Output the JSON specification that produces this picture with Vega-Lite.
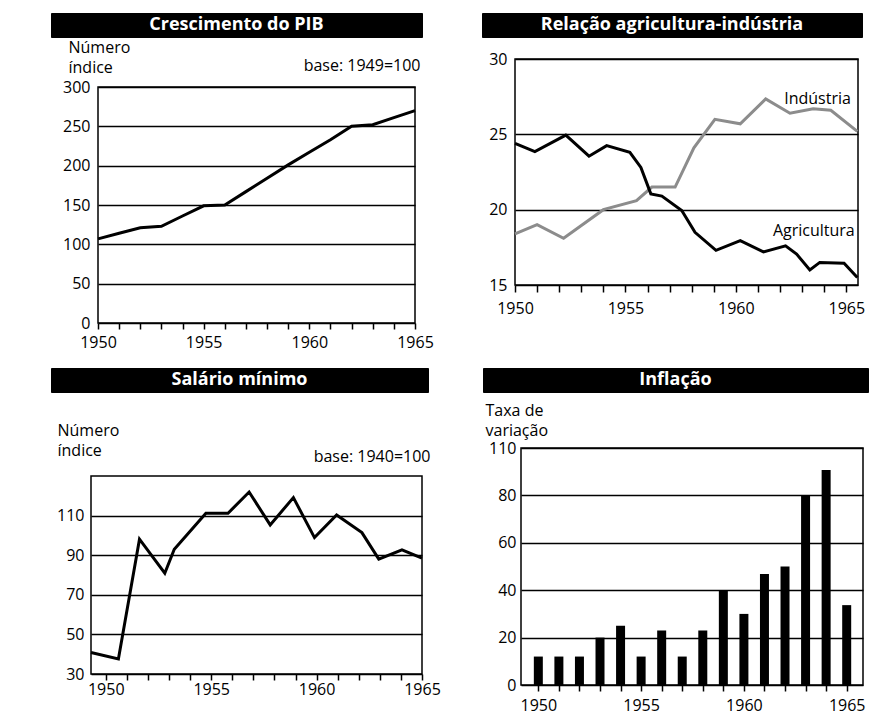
{
  "$schema": "https://vega.github.io/schema/vega-lite/v6.json",
  "padding": {"left": 50, "top": 12, "right": 0, "bottom": 0},
  "background": "white",
  "spacing": 16,
  "config": {
    "font": "Open Sans",
    "view": {"stroke": "black", "strokeWidth": 1.5},
    "axis": {
      "labelFont": "Open Sans", "labelFontSize": 16, "labelColor": "black",
      "titleFont": "Open Sans", "titleFontSize": 16, "titleFontWeight": "normal", "titleColor": "black",
      "tickColor": "black", "tickWidth": 1.5, "gridColor": "black", "gridWidth": 1.5, "gridOpacity": 1,
      "domain": false, "labelFlush": false, "labelOverlap": false, "labelBound": false
    },
    "text": {"font": "Open Sans"}
  },
  "vconcat": [
    {
      "spacing": 46,
      "hconcat": [
        {
          "spacing": 0,
          "vconcat": [
            {
              "width": 371, "height": 24,
              "view": {"fill": "black", "stroke": "black"},
              "data": {"values": [{"t": "Crescimento do PIB"}]},
              "mark": {"type": "text", "color": "white", "fontWeight": "bold", "fontSize": 18},
              "encoding": {"text": {"field": "t"}}
            },
            {
              "spacing": 0,
              "hconcat": [
                {"width": 1, "height": 1, "view": {"stroke": null}, "data": {"values": []}, "mark": "point"},
                {
                  "width": 317, "height": 236,
                  "data": {"values": [
                    {"year": 1950, "value": 107}, {"year": 1951, "value": 114}, {"year": 1952, "value": 121},
                    {"year": 1953, "value": 123}, {"year": 1954, "value": 136}, {"year": 1955, "value": 149},
                    {"year": 1956, "value": 150}, {"year": 1957, "value": 167}, {"year": 1958, "value": 184},
                    {"year": 1959, "value": 201}, {"year": 1960, "value": 217}, {"year": 1961, "value": 233},
                    {"year": 1962, "value": 250}, {"year": 1963, "value": 252}, {"year": 1964, "value": 261},
                    {"year": 1965, "value": 270}
                  ]},
                  "mark": {"type": "line", "color": "black", "strokeWidth": 3},
                  "encoding": {
                    "x": {"field": "year", "type": "quantitative", "scale": {"domain": [1950, 1965]},
                      "axis": {"values": [1950,1951,1952,1953,1954,1955,1956,1957,1958,1959,1960,1961,1962,1963,1964,1965],
                        "format": "d", "labelExpr": "datum.value % 5 == 0 ? datum.label : ''", "labelOverlap": false,
                        "grid": false, "tickSize": 6, "labelPadding": 5,
                        "title": "base: 1949=100", "titleX": 322, "titleY": -258, "titleAlign": "right", "titleBaseline": "middle", "titleAngle": 0}},
                    "y": {"field": "value", "type": "quantitative", "scale": {"domain": [0, 300]},
                      "axis": {"values": [0, 50, 100, 150, 200, 250, 300], "grid": true, "ticks": false, "labelPadding": 8,
                        "minExtent": 45,
                        "title": ["Número", "índice"], "titleAngle": 0, "titleAlign": "left", "titleBaseline": "top",
                        "titleX": -30, "titleY": -48, "titleLineHeight": 20}}
                  }
                }
              ]
            }
          ]
        },
        {
          "spacing": 12,
          "vconcat": [
            {
              "width": 380, "height": 24,
              "view": {"fill": "black", "stroke": "black"},
              "data": {"values": [{"t": "Relação agricultura-indústria"}]},
              "mark": {"type": "text", "color": "white", "fontWeight": "bold", "fontSize": 18},
              "encoding": {"text": {"field": "t"}}
            },
            {
              "spacing": 0,
              "hconcat": [
                {"width": 1, "height": 1, "view": {"stroke": null}, "data": {"values": []}, "mark": "point"},
                {
                  "width": 343, "height": 226,
                  "encoding": {
                    "x": {"field": "year", "type": "quantitative", "scale": {"domain": [1950, 1965.53], "nice": false},
                      "axis": {"values": [1950,1951,1952,1953,1954,1955,1956,1957,1958,1959,1960,1961,1962,1963,1964,1965],
                        "format": "d", "labelExpr": "datum.value % 5 == 0 ? datum.label : ''", "labelOverlap": false,
                        "grid": false, "tickSize": 7, "labelPadding": 8, "title": null}},
                    "y": {"field": "value", "type": "quantitative", "scale": {"domain": [15, 30], "nice": false},
                      "axis": {"values": [15, 20, 25, 30], "grid": true, "ticks": false, "labelPadding": 8,
                        "minExtent": 31, "title": null}}
                  },
                  "layer": [
                    {
                      "data": {"values": [
                        {"serie": "Indústria", "year": 1950.0, "value": 18.4},
                        {"serie": "Indústria", "year": 1951.0, "value": 19.0},
                        {"serie": "Indústria", "year": 1952.2, "value": 18.1},
                        {"serie": "Indústria", "year": 1954.0, "value": 20.0},
                        {"serie": "Indústria", "year": 1955.5, "value": 20.6},
                        {"serie": "Indústria", "year": 1956.2, "value": 21.5},
                        {"serie": "Indústria", "year": 1957.25, "value": 21.5},
                        {"serie": "Indústria", "year": 1958.1, "value": 24.1},
                        {"serie": "Indústria", "year": 1959.05, "value": 26.0},
                        {"serie": "Indústria", "year": 1960.2, "value": 25.7},
                        {"serie": "Indústria", "year": 1961.35, "value": 27.35},
                        {"serie": "Indústria", "year": 1962.45, "value": 26.4},
                        {"serie": "Indústria", "year": 1963.5, "value": 26.7},
                        {"serie": "Indústria", "year": 1964.3, "value": 26.6},
                        {"serie": "Indústria", "year": 1965.5, "value": 25.2},
                        {"serie": "Agricultura", "year": 1950.0, "value": 24.4},
                        {"serie": "Agricultura", "year": 1950.9, "value": 23.85},
                        {"serie": "Agricultura", "year": 1952.3, "value": 24.95},
                        {"serie": "Agricultura", "year": 1953.35, "value": 23.55},
                        {"serie": "Agricultura", "year": 1954.15, "value": 24.25},
                        {"serie": "Agricultura", "year": 1955.2, "value": 23.8},
                        {"serie": "Agricultura", "year": 1955.7, "value": 22.8},
                        {"serie": "Agricultura", "year": 1956.15, "value": 21.05},
                        {"serie": "Agricultura", "year": 1956.65, "value": 20.9},
                        {"serie": "Agricultura", "year": 1957.55, "value": 19.95},
                        {"serie": "Agricultura", "year": 1958.15, "value": 18.5},
                        {"serie": "Agricultura", "year": 1959.1, "value": 17.3},
                        {"serie": "Agricultura", "year": 1960.2, "value": 17.95},
                        {"serie": "Agricultura", "year": 1961.25, "value": 17.2},
                        {"serie": "Agricultura", "year": 1962.25, "value": 17.6},
                        {"serie": "Agricultura", "year": 1962.75, "value": 17.05},
                        {"serie": "Agricultura", "year": 1963.35, "value": 16.0},
                        {"serie": "Agricultura", "year": 1963.8, "value": 16.5},
                        {"serie": "Agricultura", "year": 1964.9, "value": 16.45},
                        {"serie": "Agricultura", "year": 1965.5, "value": 15.5}
                      ]},
                      "mark": {"type": "line", "strokeWidth": 3},
                      "encoding": {
                        "color": {"field": "serie", "type": "nominal",
                          "scale": {"domain": ["Agricultura", "Indústria"], "range": ["black", "#8c8c8c"]}, "legend": null}
                      }
                    },
                    {
                      "data": {"values": [
                        {"label": "Indústria", "year": 1963.7, "value": 27.34},
                        {"label": "Agricultura", "year": 1963.53, "value": 18.58}
                      ]},
                      "mark": {"type": "text", "fontSize": 16, "color": "black"},
                      "encoding": {
                        "text": {"field": "label"}
                      }
                    }
                  ]
                }
              ]
            }
          ]
        }
      ]
    },
    {
      "spacing": 40,
      "hconcat": [
        {
          "spacing": 28,
          "vconcat": [
            {
              "width": 377, "height": 24,
              "view": {"fill": "black", "stroke": "black"},
              "data": {"values": [{"t": "Salário mínimo"}]},
              "mark": {"type": "text", "color": "white", "fontWeight": "bold", "fontSize": 18},
              "encoding": {"text": {"field": "t"}}
            },
            {
              "spacing": 0,
              "hconcat": [
                {"width": 1, "height": 1, "view": {"stroke": null}, "data": {"values": []}, "mark": "point"},
                {
                  "width": 331, "height": 198,
                  "data": {"values": [
                    {"year": 1949.3, "value": 40.9}, {"year": 1950.6, "value": 37.6}, {"year": 1951.6, "value": 98.1},
                    {"year": 1952.8, "value": 80.9}, {"year": 1953.25, "value": 93}, {"year": 1954.75, "value": 111.2},
                    {"year": 1955.8, "value": 111.2}, {"year": 1956.8, "value": 121.9}, {"year": 1957.8, "value": 105.3},
                    {"year": 1958.9, "value": 119.1}, {"year": 1959.9, "value": 98.9}, {"year": 1960.95, "value": 110.3},
                    {"year": 1962.15, "value": 101.4}, {"year": 1962.95, "value": 88}, {"year": 1964.05, "value": 92.7},
                    {"year": 1965, "value": 88.5}
                  ]},
                  "mark": {"type": "line", "color": "black", "strokeWidth": 3},
                  "encoding": {
                    "x": {"field": "year", "type": "quantitative", "scale": {"domain": [1949.3, 1965]},
                      "axis": {"values": [1950,1951,1952,1953,1954,1955,1956,1957,1958,1959,1960,1961,1962,1963,1964,1965],
                        "format": "d", "labelExpr": "datum.value % 5 == 0 ? datum.label : ''", "labelOverlap": false,
                        "grid": false, "tickSize": 6, "labelPadding": 1,
                        "title": "base: 1940=100", "titleX": 339, "titleY": -218, "titleAlign": "right", "titleBaseline": "middle", "titleAngle": 0}},
                    "y": {"field": "value", "type": "quantitative", "scale": {"domain": [30, 130]},
                      "axis": {"values": [30, 50, 70, 90, 110], "grid": true, "ticks": false, "labelPadding": 7,
                        "minExtent": 38,
                        "title": ["Número", "índice"], "titleAngle": 0, "titleAlign": "left", "titleBaseline": "top",
                        "titleX": -34, "titleY": -54, "titleLineHeight": 20}}
                  }
                }
              ]
            }
          ]
        },
        {
          "spacing": 8,
          "vconcat": [
            {
              "width": 385, "height": 24,
              "view": {"fill": "black", "stroke": "black"},
              "data": {"values": [{"t": "Inflação"}]},
              "mark": {"type": "text", "color": "white", "fontWeight": "bold", "fontSize": 18},
              "encoding": {"text": {"field": "t"}}
            },
            {
              "spacing": 0,
              "hconcat": [
                {"width": 1, "height": 1, "view": {"stroke": null}, "data": {"values": []}, "mark": "point"},
                {
                  "width": 342, "height": 237,
                  "data": {"values": [
                    {"year": 1950, "value": 12}, {"year": 1951, "value": 12}, {"year": 1952, "value": 12},
                    {"year": 1953, "value": 20}, {"year": 1954, "value": 25}, {"year": 1955, "value": 12},
                    {"year": 1956, "value": 23}, {"year": 1957, "value": 12}, {"year": 1958, "value": 23},
                    {"year": 1959, "value": 40}, {"year": 1960, "value": 30}, {"year": 1961, "value": 46.8},
                    {"year": 1962, "value": 50}, {"year": 1963, "value": 80}, {"year": 1964, "value": 90.7},
                    {"year": 1965, "value": 33.7}
                  ]},
                  "mark": {"type": "bar", "color": "black", "size": 9},
                  "encoding": {
                    "x": {"field": "year", "type": "quantitative", "scale": {"domain": [1949.4, 1965.55]},
                      "axis": {"values": [1950,1951,1952,1953,1954,1955,1956,1957,1958,1959,1960,1961,1962,1963,1964,1965],
                        "format": "d", "labelExpr": "datum.value % 5 == 0 ? datum.label : ''", "labelOverlap": false,
                        "grid": false, "tickSize": 6, "labelPadding": 6, "title": null}},
                    "y": {"field": "value", "type": "quantitative", "scale": {"domain": [0, 100]},
                      "axis": {"values": [0, 20, 40, 60, 80, 100], "labelExpr": "datum.value == 100 ? '110' : datum.label",
                        "grid": true, "ticks": false, "labelPadding": 5,
                        "minExtent": 36,
                        "title": ["Taxa de", "variação"], "titleAngle": 0, "titleAlign": "left", "titleBaseline": "top",
                        "titleX": -36, "titleY": -46, "titleLineHeight": 20}}
                  }
                }
              ]
            }
          ]
        }
      ]
    }
  ]
}
